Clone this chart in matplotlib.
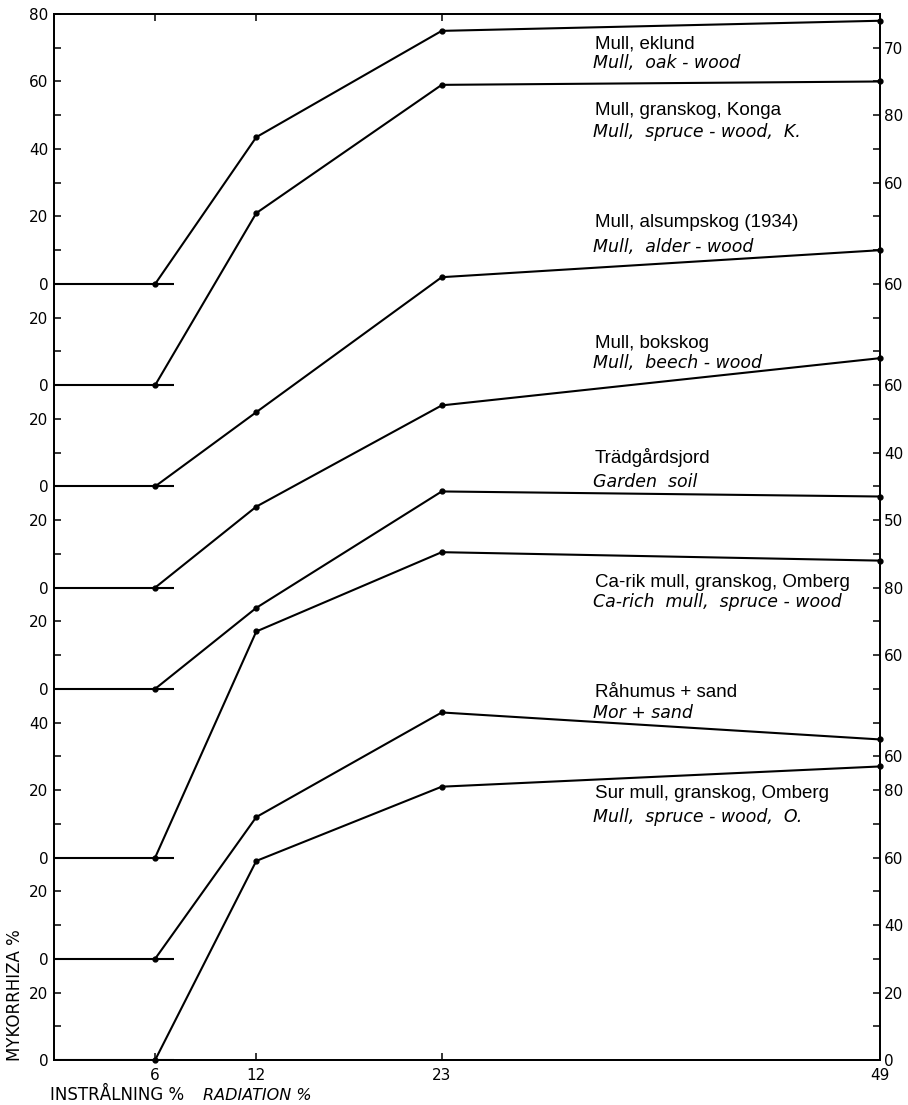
import matplotlib.pyplot as plt

# radiation levels (% of full daylight)
radiation = [6, 12, 23, 49]

# mycorrhiza frequency (%) for each soil
mull_eklund = [0, 43.5, 75, 78]
mull_konga = [0, 51, 89, 90]
mull_alsump = [0, 22, 62, 70]
mull_bokskog = [0, 24, 54, 68]
tradgardsjord = [0, 24, 58.5, 57]
carik_omberg = [0, 67, 90.5, 88]
rahumus_sand = [0, 42, 73, 65]
sur_mull_omberg = [0, 59, 81, 87]

names_sv = ['Mull, eklund', 'Mull, granskog, Konga', 'Mull, alsumpskog (1934)',
            'Mull, bokskog', 'Trädgårdsjord', 'Ca-rik mull, granskog, Omberg',
            'Råhumus + sand', 'Sur mull, granskog, Omberg']
names_en = ['Mull,  oak - wood', 'Mull,  spruce - wood,  K.', 'Mull,  alder - wood',
            'Mull,  beech - wood', 'Garden  soil', 'Ca-rich  mull,  spruce - wood',
            'Mor + sand', 'Mull,  spruce - wood,  O.']

series = [mull_eklund, mull_konga, mull_alsump, mull_bokskog,
          tradgardsjord, carik_omberg, rahumus_sand, sur_mull_omberg]

# each curve sits on its own zero line
baselines = [230, 200, 170, 140, 110, 60, 30, 0]
label_y_sv = [299.9, 280.1, 246.9, 211.0, 176.9, 140.2, 107.6, 77.7]
label_y_en = [294.0, 273.6, 239.4, 205.1, 169.8, 134.3, 101.5, 70.5]

# right-hand scale: (curve index, value) pairs that get a label
right_labels = [(0, 70), (1, 80), (1, 60), (2, 60), (3, 60), (3, 40), (4, 50),
                (5, 80), (5, 60), (6, 60), (7, 80), (7, 60), (7, 40), (7, 20), (7, 0)]

W, H = 908, 1105
fig = plt.figure(figsize=(W / 100, H / 100), dpi=100)
ax = fig.add_axes([54 / W, 1 - 1060 / H, (880 - 54) / W, (1060 - 14) / H])
ax.set_xlim(0, 49)
ax.set_ylim(0, 310)

for vals, base in zip(series, baselines):
    ax.plot([0, radiation[0] + 1.1], [base, base], color='black', lw=1.5,
            solid_capstyle='butt', zorder=2)
    ax.plot(radiation, [base + v for v in vals], color='black', lw=1.5,
            marker='o', ms=3.5, clip_on=False, zorder=3)

for i in range(len(series)):
    ax.text(32.1, label_y_sv[i], names_sv[i], family='Liberation Sans',
            fontsize=13.5, va='baseline', ha='left')
    ax.text(32.0, label_y_en[i], names_en[i], family='DejaVu Sans',
            style='italic', fontsize=12.5, va='baseline', ha='left')

for sp in ax.spines.values():
    sp.set_linewidth(1.3)

# x axis
ax.set_xticks(radiation)
ax.set_xticklabels([str(r) for r in radiation], family='DejaVu Sans', fontsize=11)
ax.tick_params(axis='x', direction='in', top=True, bottom=True, length=5,
               width=1.1, pad=6)

# left scale, labelled relative to each zero line
left_ticks = list(range(0, 311, 10))
left_text = []
for u in left_ticks:
    b = max(bb for bb in baselines if bb <= u)
    left_text.append(str(u - b) if (u - b) % 20 == 0 else '')
ax.set_yticks(left_ticks)
ax.set_yticklabels(left_text, family='DejaVu Sans', fontsize=11)
ax.tick_params(axis='y', direction='in', length=5, width=1.1, pad=4)

# right scale
ax2 = ax.twinx()
ax2.set_ylim(0, 310)
r_ticks = list(range(0, 301, 10))
r_map = {baselines[i] + v: str(v) for i, v in right_labels}
ax2.set_yticks(r_ticks)
ax2.set_yticklabels([r_map.get(u, '') for u in r_ticks], family='DejaVu Sans',
                    fontsize=11)
ax2.tick_params(axis='y', direction='in', length=5, width=1.1, pad=3)
for sp in ax2.spines.values():
    sp.set_linewidth(1.3)

fig.text(15 / W, 1 - 995 / H, 'MYKORRHIZA %', rotation=90, ha='center',
         va='center', family='DejaVu Sans', fontsize=12)
fig.text(50 / W, 1 - 1095 / H, 'INSTRÅLNING %', ha='left', va='center',
         family='DejaVu Sans', fontsize=12)
fig.text(203 / W, 1 - 1095 / H, 'RADIATION %', ha='left', va='center',
         family='DejaVu Sans', style='italic', fontsize=11.5)

fig.savefig('out.png', dpi=100)
